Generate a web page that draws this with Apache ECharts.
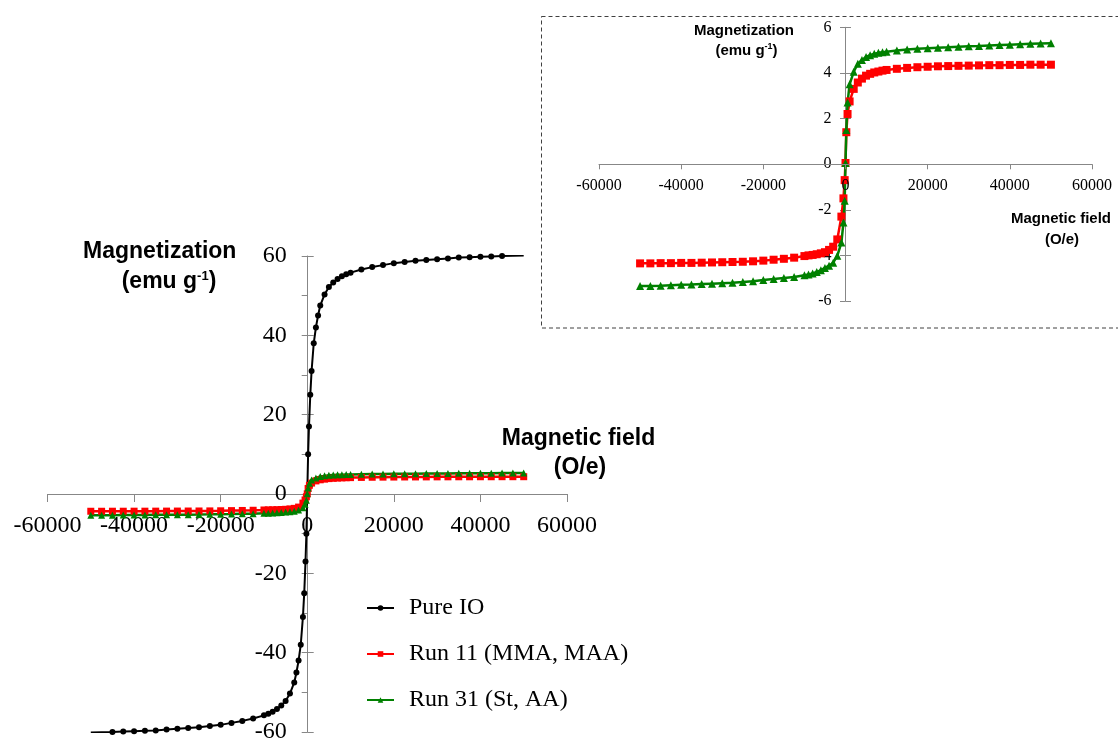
<!DOCTYPE html>
<html>
<head>
<meta charset="utf-8">
<style>
  html, body { margin: 0; padding: 0; background: #fff; }
  #chart { width: 1118px; height: 742px; }
</style>
<script src="https://cdn.jsdelivr.net/npm/echarts@6/dist/echarts.min.js"></script>
</head>
<body>
<div id="chart"></div>
<script>
// ---------------- data ----------------
const seriesNames = ['Pure IO', 'Run 11 (MMA, MAA)', 'Run 31 (St, AA)'];

// Pure IO (emu/g) vs field (Oe)
const fieldIO = [-50000,-45000,-42500,-40000,-37500,-35000,-32500,-30000,-27500,-25000,-22500,-20000,-17500,-15000,-12500,-10000,-9000,-8000,-7000,-6000,-5000,-4000,-3000,-2500,-2000,-1500,-1000,-700,-400,-200,0,200,400,700,1000,1500,2000,2500,3000,4000,5000,6000,7000,8000,9000,10000,12500,15000,17500,20000,22500,25000,27500,30000,32500,35000,37500,40000,42500,45000,50000];
const magIO = [-60.1,-60.0,-59.9,-59.8,-59.7,-59.6,-59.4,-59.2,-59.0,-58.8,-58.5,-58.2,-57.7,-57.2,-56.6,-55.8,-55.4,-54.9,-54.2,-53.3,-52.2,-50.3,-47.5,-45.0,-42.0,-38.0,-31.0,-25.0,-17.0,-10.0,0,10.0,17.0,25.0,31.0,38.0,42.0,45.0,47.5,50.3,52.2,53.3,54.2,54.9,55.4,55.8,56.6,57.2,57.7,58.2,58.5,58.8,59.0,59.2,59.4,59.6,59.7,59.8,59.9,60.0,60.1];

// Run 11 / Run 31 vs field (Oe)
const fieldRun = [-50000,-47500,-45000,-42500,-40000,-37500,-35000,-32500,-30000,-27500,-25000,-22500,-20000,-17500,-15000,-12500,-10000,-9000,-8000,-7000,-6000,-5000,-4000,-3000,-2000,-1000,-500,-200,0,200,500,1000,2000,3000,4000,5000,6000,7000,8000,9000,10000,12500,15000,17500,20000,22500,25000,27500,30000,32500,35000,37500,40000,42500,45000,47500,50000];
const magRun11 = [-4.35,-4.35,-4.34,-4.34,-4.33,-4.33,-4.32,-4.31,-4.30,-4.29,-4.28,-4.26,-4.23,-4.19,-4.15,-4.10,-4.03,-4.00,-3.98,-3.95,-3.91,-3.86,-3.76,-3.62,-3.30,-2.30,-1.50,-0.70,0.05,1.40,2.20,2.75,3.30,3.58,3.75,3.88,3.96,4.02,4.06,4.10,4.13,4.18,4.22,4.25,4.27,4.29,4.30,4.31,4.32,4.33,4.34,4.34,4.35,4.35,4.36,4.36,4.36];
const magRun31 = [-5.34,-5.34,-5.33,-5.31,-5.29,-5.28,-5.26,-5.24,-5.22,-5.20,-5.17,-5.13,-5.08,-5.04,-4.99,-4.95,-4.87,-4.84,-4.79,-4.73,-4.65,-4.55,-4.45,-4.32,-4.02,-3.44,-2.56,-1.60,0.05,1.50,2.70,3.50,4.05,4.40,4.57,4.70,4.78,4.84,4.88,4.91,4.93,4.98,5.03,5.06,5.08,5.10,5.12,5.15,5.17,5.18,5.20,5.22,5.24,5.26,5.28,5.29,5.30];

// axis ticks [min, max, step]
const mainXTicks = [-60000, 60000, 20000];
const mainYTicks = [-60, 60, 20];
const insetXTicks = [-60000, 60000, 20000];
const insetYTicks = [-6, 6, 2];

// ---------------- chart ----------------
const SERIF = '"Liberation Serif", "Times New Roman", serif';
const SANS = '"Liberation Sans", Arial, sans-serif';
const AXIS_COLOR = '#878787';
const plain = v => String(v);

const pairs = (xs, ys) => xs.map((x, i) => [x, ys[i]]);
const ioData = pairs(fieldIO, magIO).map((p, i, arr) =>
  (i === 0 || i === arr.length - 1) ? { value: p, symbol: 'none' } : p);

function hiddenAxis(gridIndex, t) {
  return { type: 'value', gridIndex, min: t[0], max: t[1], interval: t[2], show: false,
           splitLine: { show: false } };
}
function xAxisCfg(gridIndex, t, fontSize, margin, tickLen, z) {
  return {
    type: 'value', gridIndex, min: t[0], max: t[1], interval: t[2], position: 'bottom', z: z || 0,
    axisLine: { show: true, onZero: false, lineStyle: { color: AXIS_COLOR, width: 1 } },
    axisTick: { show: true, length: tickLen, lineStyle: { color: AXIS_COLOR } },
    axisLabel: { color: '#000', fontFamily: SERIF, fontSize, margin, formatter: plain },
    splitLine: { show: false }
  };
}
function yAxisCfg(gridIndex, t, fontSize, margin, tickLen, minor) {
  return {
    type: 'value', gridIndex, min: t[0], max: t[1], interval: t[2], position: 'left',
    axisLine: { show: true, onZero: false, lineStyle: { color: AXIS_COLOR, width: 1 } },
    axisTick: { show: true, length: tickLen, lineStyle: { color: AXIS_COLOR } },
    minorTick: { show: !!minor, splitNumber: 2, length: tickLen, lineStyle: { color: AXIS_COLOR } },
    axisLabel: { color: '#000', fontFamily: SERIF, fontSize, margin, formatter: plain },
    splitLine: { show: false }
  };
}
function yCrossCfg(gridIndex, t, tickLen) {
  return {
    type: 'value', gridIndex, min: t[0], max: t[1], interval: t[2], position: 'left', offset: 0,
    axisLine: { show: false, onZero: false },
    axisTick: { show: true, inside: true, length: tickLen, lineStyle: { color: AXIS_COLOR } },
    axisLabel: { show: false },
    splitLine: { show: false }
  };
}

function titleText(x, y, text, size) {
  return {
    type: 'text', x, y,
    style: { text, font: 'bold ' + size + 'px ' + SANS, fill: '#000', align: 'center', verticalAlign: 'middle' }
  };
}
function unitText(x, y, size, supSize, raise) {
  return {
    type: 'text', x, y,
    style: {
      text: '{a|(emu g}{b|-1}{a|)}',
      align: 'center', verticalAlign: 'middle', fill: '#000',
      rich: {
        a: { font: 'bold ' + size + 'px ' + SANS, fill: '#000' },
        b: { font: 'bold ' + supSize + 'px ' + SANS, fill: '#000', padding: [0, 0, raise, 0] }
      }
    }
  };
}

const G = (left, right, top, bottom) => ({ left, right, top, bottom, outerBoundsMode: 'none', containLabel: false });

const option = {
  animation: false,
  backgroundColor: '#fff',
  grid: [
    G(47.5, 551, 256, 10),      // 0 main plot
    G(47.5, 551, 256, 248),     // 1 main x axis carrier (bottom edge = zero line)
    G(307.7, 551, 256, 10),     // 2 main y axis carrier (left edge = zero line)
    G(599, 26, 27.3, 441),      // 3 inset plot
    G(599, 26, 27.3, 577.7),    // 4 inset x axis carrier
    G(845.5, 26, 27.3, 441)     // 5 inset y axis carrier
  ],
  xAxis: [
    hiddenAxis(0, mainXTicks),
    xAxisCfg(1, mainXTicks, 24, 20, 8),
    hiddenAxis(2, [0, 60000, 20000]),
    hiddenAxis(3, insetXTicks),
    xAxisCfg(4, insetXTicks, 16, 13, 5, 5),
    hiddenAxis(5, [0, 60000, 20000])
  ],
  yAxis: [
    hiddenAxis(0, mainYTicks),
    hiddenAxis(1, [0, 60, 20]),
    yAxisCfg(2, mainYTicks, 24, 21, 6, true),
    yCrossCfg(2, mainYTicks, 6),
    hiddenAxis(3, insetYTicks),
    hiddenAxis(4, [0, 6, 2]),
    yAxisCfg(5, insetYTicks, 16, 14, 5.5, false),
    yCrossCfg(5, insetYTicks, 5.5)
  ],
  legend: {
    orient: 'vertical', left: 361, top: 591,
    itemWidth: 27, itemHeight: 7, itemGap: 22,
    data: seriesNames,
    textStyle: { fontFamily: SERIF, fontSize: 24, color: '#000', padding: [0, 0, 0, 10] }
  },
  series: [
    { name: seriesNames[0], type: 'line', xAxisIndex: 0, yAxisIndex: 0, data: ioData,
      symbol: 'circle', symbolSize: 6, color: '#000',
      lineStyle: { color: '#000', width: 2 }, itemStyle: { color: '#000' } },
    { name: seriesNames[1], type: 'line', xAxisIndex: 0, yAxisIndex: 0, data: pairs(fieldRun, magRun11),
      symbol: 'rect', symbolSize: 7, color: '#ff0000',
      lineStyle: { color: '#ff0000', width: 2.5 }, itemStyle: { color: '#ff0000' } },
    { name: seriesNames[2], type: 'line', xAxisIndex: 0, yAxisIndex: 0, data: pairs(fieldRun, magRun31),
      symbol: 'triangle', symbolSize: 7, color: '#008000',
      lineStyle: { color: '#008000', width: 2.5 }, itemStyle: { color: '#008000' } },
    { name: seriesNames[1], type: 'line', xAxisIndex: 3, yAxisIndex: 4, data: pairs(fieldRun, magRun11),
      symbol: 'rect', symbolSize: 8, color: '#ff0000',
      lineStyle: { color: '#ff0000', width: 2.5 }, itemStyle: { color: '#ff0000' } },
    { name: seriesNames[2], type: 'line', xAxisIndex: 3, yAxisIndex: 4, data: pairs(fieldRun, magRun31),
      symbol: 'triangle', symbolSize: 8, color: '#008000',
      lineStyle: { color: '#008000', width: 2.5 }, itemStyle: { color: '#008000' } }
  ],
  graphic: [
    { type: 'rect', shape: { x: 541.5, y: 16.5, width: 620, height: 311.5 },
      style: { fill: 'none', stroke: '#404040', lineWidth: 1, lineDash: [4, 3] }, silent: true },
    titleText(159.7, 252, 'Magnetization', 23),
    unitText(169, 282, 23, 13, 12),
    titleText(578.5, 439, 'Magnetic field', 23),
    titleText(580, 468, '(O/e)', 23),
    titleText(744, 31, 'Magnetization', 15),
    unitText(746.5, 51, 15, 9, 8),
    titleText(1061, 218.5, 'Magnetic field', 15),
    titleText(1062, 239.5, '(O/e)', 15)
  ]
};

const chart = echarts.init(document.getElementById('chart'), null, { renderer: 'canvas' });
chart.setOption(option);
</script>
</body>
</html>
